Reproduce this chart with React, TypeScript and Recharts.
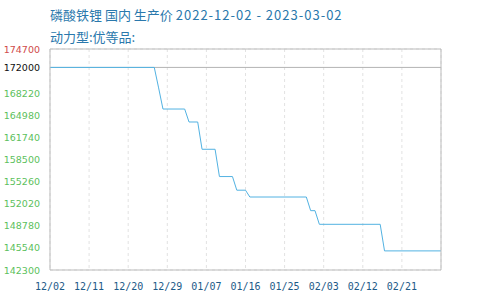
import React from 'react';
import { LineChart, Line, XAxis, YAxis, CartesianGrid, ReferenceLine } from 'recharts';

// price change points (CNY/t); the line is flat between them
const dates = [
  '2022-12-02', '2022-12-26', '2022-12-27', '2022-12-28', '2023-01-02', '2023-01-03',
  '2023-01-05', '2023-01-06', '2023-01-09', '2023-01-10', '2023-01-13', '2023-01-14',
  '2023-01-16', '2023-01-17', '2023-01-30', '2023-01-31', '2023-02-01', '2023-02-02',
  '2023-02-16', '2023-02-17', '2023-03-02',
];
const prices = [
  172000, 172000, 169000, 165900, 165900, 164000,
  164000, 160000, 160000, 156000, 156000, 154000,
  154000, 153000, 153000, 151000, 151000, 149000,
  149000, 145100, 145100,
];

const tickDates = [
  '2022-12-02', '2022-12-11', '2022-12-20', '2022-12-29', '2023-01-07',
  '2023-01-16', '2023-01-25', '2023-02-03', '2023-02-12', '2023-02-21',
];
const priceTicks = [142300, 145540, 148780, 152020, 155260, 158500, 161740, 164980, 168220, 172000, 174700];
const basePrice = 172000;

const START = Date.parse('2022-12-02');
const toDay = (d: string) => Math.round((Date.parse(d) - START) / 86400000);
const dayLabel = (day: number) => {
  const d = new Date(START + day * 86400000);
  const mm = String(d.getUTCMonth() + 1).padStart(2, '0');
  const dd = String(d.getUTCDate()).padStart(2, '0');
  return `${mm}/${dd}`;
};

const data = dates.map((d, i) => ({ day: toDay(d), price: prices[i] }));
const xTicks = tickDates.map(toDay);

const tickColor = (v: number) => (v > basePrice ? '#d04a4a' : v === basePrice ? '#111' : '#5cbf5c');
const pct = (v: number) => `${(((v - basePrice) / basePrice) * 100).toFixed(2)}%`;

const LeftTick = (p: any) => (
  <text x={p.x} y={p.y} dy={3.5} textAnchor="end" fontSize={9.5} fontFamily="DejaVu Sans" fill={tickColor(p.payload.value)}>
    {p.payload.value}
  </text>
);

const RightTick = (p: any) => (
  <text x={p.x} y={p.y} dy={3.5} textAnchor="start" fontSize={10} fontFamily="DejaVu Sans Mono" fill={tickColor(p.payload.value)}>
    {pct(p.payload.value)}
  </text>
);

const titleStyle: React.CSSProperties = {
  position: 'absolute',
  left: 50,
  fontSize: 13,
  lineHeight: '13px',
  color: '#2a78ac',
  fontFamily: '"Noto Sans CJK SC", sans-serif',
  whiteSpace: 'nowrap',
};

export default function App() {
  return (
    <div style={{ position: 'absolute', left: 0, top: 0, width: 490, height: 300, background: '#fff' }}>
      <div style={{ ...titleStyle, top: 8 }}>
        磷酸铁锂 国内 生产价 <span style={{ letterSpacing: 1 }}>2022-12-02 - 2023-03-02</span>
      </div>
      <div style={{ ...titleStyle, top: 30 }}>动力型:优等品:</div>
      <LineChart width={490} height={300} data={data} margin={{ top: 49, right: 0, bottom: 0, left: 8 }}>
        <CartesianGrid stroke="#e2e2e2" strokeDasharray="3 3" />
        <XAxis
          dataKey="day"
          type="number"
          domain={[0, 90]}
          ticks={xTicks}
          tickFormatter={dayLabel}
          height={30}
          tickSize={0}
          tickMargin={13}
          axisLine={{ stroke: '#bbb' }}
          tick={{ fill: '#1d5a88', fontSize: 10, fontFamily: 'DejaVu Sans Mono' }}
          interval={0}
        />
        <YAxis
          yAxisId="left"
          domain={[142300, 174700]}
          ticks={priceTicks}
          width={42}
          tickSize={0}
          tickMargin={10}
          axisLine={{ stroke: '#bbb' }}
          tick={LeftTick}
          interval={0}
        />
        <YAxis
          yAxisId="right"
          orientation="right"
          domain={[142300, 174700]}
          ticks={priceTicks}
          width={49}
          tickSize={0}
          tickMargin={4}
          axisLine={{ stroke: '#bbb' }}
          tick={RightTick}
          interval={0}
        />
        <ReferenceLine yAxisId="left" y={174700} stroke="#bbb" />
        <ReferenceLine yAxisId="left" y={basePrice} stroke="#b4b4b4" />
        <Line
          yAxisId="left"
          type="linear"
          dataKey="price"
          stroke="#52b2e2"
          strokeWidth={1}
          dot={false}
          isAnimationActive={false}
        />
      </LineChart>
    </div>
  );
}
